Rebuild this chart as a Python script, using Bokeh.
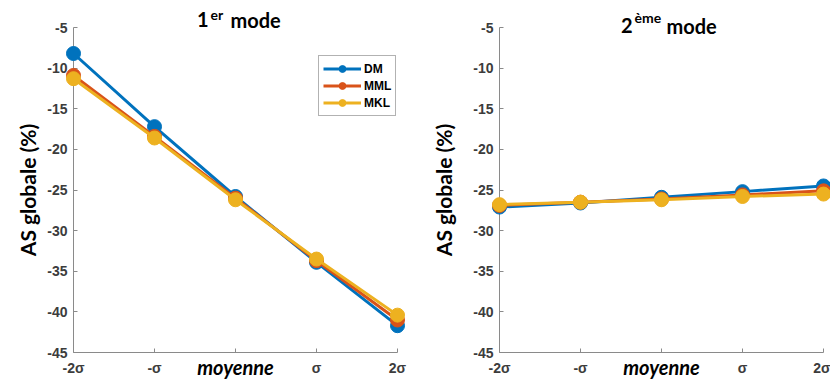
from bokeh.plotting import figure
from bokeh.layouts import row
from bokeh.models import Range1d, FixedTicker, Legend, LegendItem
from bokeh.core.properties import value
from bokeh.embed import file_html
from bokeh.resources import INLINE

# ---- data ----
x_pos = [-2, -1, 0, 1, 2]
x_labels = ["-2σ", "-σ", "moyenne", "σ", "2σ"]
y_ticks = [-45, -40, -35, -30, -25, -20, -15, -10, -5]
series = ["DM", "MML", "MKL"]
colors = ["#0072BD", "#D95319", "#EDB120"]

mode1_dm = [-8.2, -17.2, -25.8, -33.9, -41.7]
mode1_mml = [-10.9, -18.4, -26.0, -33.7, -41.0]
mode1_mkl = [-11.3, -18.6, -26.2, -33.5, -40.4]

mode2_dm = [-27.1, -26.6, -25.9, -25.2, -24.5]
mode2_mml = [-26.9, -26.5, -26.1, -25.6, -25.1]
mode2_mkl = [-26.8, -26.5, -26.2, -25.8, -25.5]

title1 = ("1", "er", "mode")
title2 = ("2", "ème", "mode")
y_label = "AS globale (%)"

AX_COL = "#8a8a8a"
TXT_COL = "#3c3c3c"


def add_text(p, x, y, txt, size, style, align, xo, yo, font="Lato"):
    p.text(x=[x], y=[y], text=[txt], x_offset=xo, y_offset=yo,
           text_font=value(font), text_font_style=style, text_font_size=size,
           text_align=align, text_baseline="alphabetic", text_color="black",
           level="overlay")


def make_fig(values, width, mbl, mbr, title, toffs, label_standoff, with_legend):
    p = figure(width=width, height=383, output_backend="svg", toolbar_location=None,
               x_range=Range1d(-2, 2), y_range=Range1d(-45, -5),
               min_border_left=mbl, min_border_right=mbr,
               min_border_top=27, min_border_bottom=31)
    p.outline_line_color = None
    p.xgrid.visible = False
    p.ygrid.visible = False

    # axes
    for ax in (p.xaxis[0], p.yaxis[0]):
        ax.axis_line_color = AX_COL
        ax.axis_line_width = 1
        ax.major_tick_line_color = AX_COL
        ax.major_tick_in = 4
        ax.major_tick_out = 0
        ax.minor_tick_line_color = None
        ax.major_label_text_font = "Liberation Sans"
        ax.major_label_text_font_style = "bold"
        ax.major_label_text_font_size = "14px"
        ax.major_label_text_color = TXT_COL
    p.xaxis.ticker = FixedTicker(ticks=x_pos)
    p.xaxis.major_label_overrides = {k: ("" if lab == "moyenne" else lab)
                                     for k, lab in zip(x_pos, x_labels)}
    p.xaxis.major_label_standoff = 7
    p.yaxis.ticker = FixedTicker(ticks=y_ticks)
    p.yaxis.major_label_overrides = {t: str(t) for t in y_ticks}
    p.yaxis.major_label_standoff = 6
    p.yaxis.axis_label = y_label
    p.yaxis.axis_label_text_font = "Lato"
    p.yaxis.axis_label_text_font_style = "bold"
    p.yaxis.axis_label_text_font_size = "21px"
    p.yaxis.axis_label_text_color = "black"
    p.yaxis.axis_label_standoff = label_standoff

    items = []
    for name, col, ys in zip(series, colors, values):
        lr = p.line(x_pos, ys, line_width=3, color=col, level="overlay")
        sr = p.scatter(x_pos, ys, size=14, marker="circle", fill_color=col, line_color=col,
                       level="overlay")
        items.append(LegendItem(label=name, renderers=[lr, sr]))

    # middle tick label in its own style
    for k, lab in zip(x_pos, x_labels):
        if lab == "moyenne":
            add_text(p, k, -45, lab, "20px", "bold italic", "center", 0, 14)

    # title with superscript
    num, sup, word = title
    o_num, o_sup, o_word, dy, dsup = toffs
    add_text(p, 0, -5, num, "20px", "bold", "right", o_num, dy)
    add_text(p, 0, -5, sup, "14px", "bold", "left", o_sup, dy + dsup)
    add_text(p, 0, -5, word, "20px", "bold", "left", o_word, dy)

    if with_legend:
        leg = Legend(items=items, location=(245, 236), margin=0, padding=4, spacing=0,
                     glyph_height=17, glyph_width=38, label_height=17, label_standoff=3,
                     label_text_font="Liberation Sans", label_text_font_style="bold",
                     label_text_font_size="12px", label_text_color="black",
                     border_line_color="#666666", border_line_width=1,
                     background_fill_color="white", background_fill_alpha=1)
        p.add_layout(leg)
    return p


p1 = make_fig([mode1_dm, mode1_mml, mode1_mkl], 420, 73, 23, title1,
              (-27, -25, -5, -8, -5), 4, True)
p2 = make_fig([mode2_dm, mode2_mml, mode2_mkl], 410, 79, 7, title2,
              (-29, -27, 5, -2, -8), 14, False)

layout = row(p1, p2)
open("out.html", "w").write(file_html(layout, INLINE))
